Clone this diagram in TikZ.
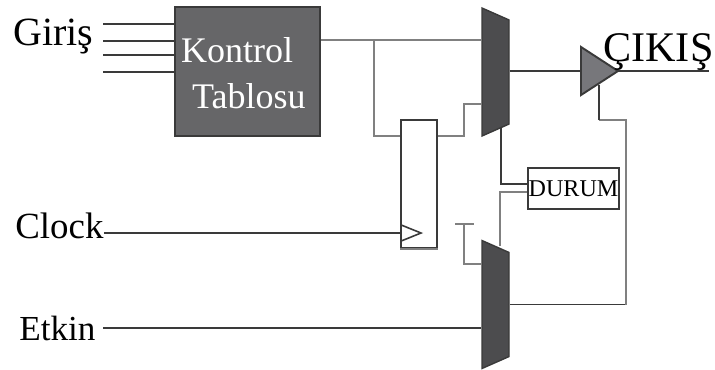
\documentclass[tikz,border=0pt]{standalone}
\usepackage{fontspec}
\setmainfont{Liberation Serif}
\usetikzlibrary{calc,shapes.geometric}
\definecolor{boxgray}{HTML}{666668}
\definecolor{muxgray}{HTML}{4C4C4E}
\definecolor{bufgray}{HTML}{77777B}
\definecolor{wiredark}{HTML}{3A3A3A}
\definecolor{wirelight}{HTML}{808080}
\tikzset{
  wire/.style={draw=wiredark,line width=1.1pt},
  wiregray/.style={draw=wirelight,line width=1.1pt},
  tag/.style={anchor=base west,inner sep=0pt,text=black},
  tablebox/.style={draw=wiredark,fill=boxgray,line width=1.1pt,align=left,text=white,
    minimum width=2.9cm,minimum height=2.58cm,inner sep=0pt,text width=2.66cm,
    text depth=0.85cm,font=\fontsize{20.5}{26.2}\selectfont},
  mux/.style={draw=wiredark,fill=muxgray,line width=0.8pt,trapezium,shape border rotate=270,
    trapezium left angle=84,trapezium right angle=84,trapezium stretches=true,
    minimum width=2.56cm,minimum height=0.54cm,inner sep=0pt},
  buffer/.style={draw=wiredark,fill=bufgray,line width=1.1pt,isosceles triangle,
    isosceles triangle apex angle=66,minimum height=0.74cm,inner sep=0pt,outer sep=0pt},
  clockpin/.style={draw=wiredark,fill=white,line width=0.9pt,isosceles triangle,
    isosceles triangle apex angle=44,minimum height=0.4cm,inner sep=0pt,outer sep=0pt},
  regbox/.style={draw=wiredark,fill=white,line width=1.1pt,minimum width=0.72cm,minimum height=2.56cm,inner sep=0pt},
  statebox/.style={draw=wiredark,fill=white,line width=1.1pt,minimum width=1.82cm,minimum height=0.82cm,
    inner sep=0pt,font=\fontsize{13.7}{14}\selectfont}
}
\begin{document}
\begin{tikzpicture}[x=0.02cm,y=-0.02cm]
  \useasboundingbox (0,0) rectangle (715,369);
  \node[tablebox] (kontrol) at (247.5,71.5) {Kontrol\\\hspace*{0.22cm}Tablosu};
  \node[mux] (muxa) at (495.5,72) {\phantom{x}};
  \node[mux] (muxb) at (495.5,304.5) {\phantom{x}};
  \node[buffer,anchor=apex] (buf) at (618,71) {};
  \node[regbox] (reg) at (419,184) {};
  \node[clockpin,anchor=lower side] (clk) at (401,233) {};
  \node[statebox] (durum) at (573.5,188.5) {DURUM};
  \node[tag,font=\fontsize{22.8}{24}\selectfont] (giris) at (13,45) {Giriş};
  \node[tag,font=\fontsize{21}{24}\selectfont] (clock) at (15,238) {Clock};
  \node[tag,font=\fontsize{20}{24}\selectfont] (etkin) at (19,340) {Etkin};
  \node[tag,font=\fontsize{24}{24}\selectfont] (cikis) at (603,61) {ÇIKIŞ};
  \foreach \y in {24,41,55,72} {
    \coordinate (in\y) at (103,\y);
    \draw[wire] (in\y) -- (in\y -| kontrol.west);
  }
  \coordinate (rowa) at (0,40);
  \coordinate (rowb) at (0,136);
  \coordinate (rowc) at (464,104);
  \coordinate (tap) at (374,40);
  \coordinate (out) at (709,71);
  \coordinate (en) at (626,120);
  \coordinate (hold) at (464,224);
  \coordinate (rowd) at (0,264);
  \coordinate (etkinin) at (103,328);
  \coordinate (statea) at (501,127);
  \coordinate (stateb) at (500,246);
  \coordinate (rowe) at (0,184);
  \coordinate (rowf) at (0,192);
  \coordinate (holda) at (455,224);
  \coordinate (holdb) at (474,224);
  \coordinate (bufen) at (599,85);
  \draw[wiregray] (rowa -| kontrol.east) -- (rowa -| muxa.bottom side);
  \draw[wiregray] (tap) |- (rowb -| reg.west);
  \draw[wiregray] (rowb -| reg.east) -| (rowc) -- (rowc -| muxa.bottom side);
  \draw[wire] (muxa.top side |- buf.lower side) -- (buf.lower side);
  \draw[wire] (buf.apex) -- (out);
  \draw[wire] (clock.east |- clk.lower side) -- (clk.lower side);
  \draw[wiregray] (reg.south west) -- (reg.south east);
  \draw[wire] (statea) |- (rowe -| durum.west);
  \draw[wiregray] (rowf -| durum.west) -| (stateb);
  \draw[wiregray] (holda) -- (holdb);
  \draw[wiregray] (hold) |- (rowd -| muxb.bottom side);
  \draw[wire] (etkinin) -- (etkinin -| muxb.bottom side);
  \draw[wire] (muxb.top side) -- (muxb.top side -| en);
  \draw[wiregray] (muxb.top side -| en) -- (en) -- (en -| bufen);
  \draw[wire] (en -| bufen) -- (bufen);
\end{tikzpicture}
\end{document}
